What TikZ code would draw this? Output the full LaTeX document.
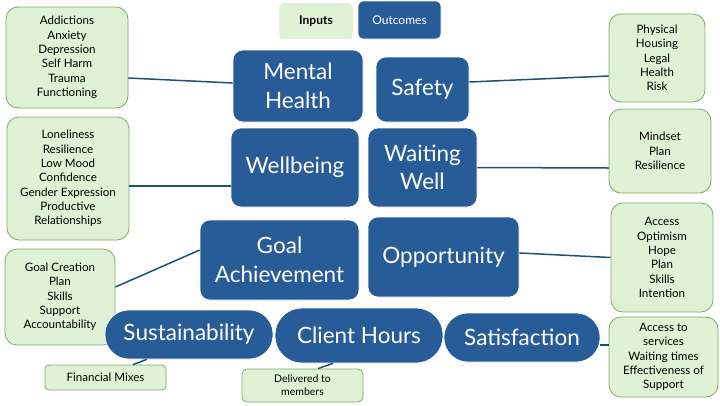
\documentclass[tikz,border=0pt]{standalone}
\usepackage{fontspec}
\setmainfont{Lato}
\definecolor{bluebox}{RGB}{40,92,152}
\definecolor{greenfill}{RGB}{224,242,214}
\definecolor{greenline}{RGB}{122,170,102}
\definecolor{linkcol}{RGB}{32,82,112}
\begin{document}
\begin{tikzpicture}[x=1pt,y=-1pt,
  inbox/.style={draw=greenline,fill=greenfill,line width=0.8pt,rounded corners=12pt,
    inner sep=0pt,align=center,font=\fontsize{11.6}{14.3}\selectfont,text=black},
  outbox/.style={draw=white,line width=0.6pt,fill=bluebox,rounded corners=10pt,
    inner sep=0pt,align=center,font=\fontsize{22.5}{28.5}\selectfont,text=white},
  pill/.style={outbox,rounded corners=24pt},
  link/.style={draw=linkcol,line width=1.5pt}]
\useasboundingbox (0,0) rectangle (720,405);
\fill[white] (0,0) rectangle (720,405);

% legend
\node[inbox,draw=none,rounded corners=5pt,minimum width=74pt,minimum height=36pt,font=\fontsize{12}{14}\selectfont\bfseries] (inputs) at (316,21) {Inputs};
\node[outbox,rounded corners=5pt,minimum width=83pt,minimum height=38pt,font=\fontsize{12}{14}\selectfont] (outcomes) at (399.5,20) {Outcomes};

% inputs
\node[inbox,minimum width=122pt,minimum height=101pt] (L1) at (67,57.5) {Addictions\\Anxiety\\Depression\\Self Harm\\Trauma\\Functioning};
\node[inbox,minimum width=122pt,minimum height=123pt] (L2) at (68,178.5) {Loneliness\\Resilience\\Low Mood\\Confidence\\Gender Expression\\Productive\\Relationships};
\node[inbox,minimum width=110pt,minimum height=96pt] (L3) at (60,297) {Goal Creation\\Plan\\Skills\\Support\\Accountability};
\node[inbox,rounded corners=4pt,minimum width=121pt,minimum height=25pt] (FM) at (105.5,377.5) {Financial Mixes};
\node[inbox,rounded corners=5pt,minimum width=121pt,minimum height=33pt,font=\fontsize{10.5}{13}\selectfont] (DM) at (302.5,385.5) {Delivered to\\members};
\node[inbox,minimum width=96pt,minimum height=88pt] (R1) at (657,58) {Physical\\Housing\\Legal\\Health\\Risk};
\node[inbox,minimum width=102pt,minimum height=84pt] (R2) at (660,151) {Mindset\\Plan\\Resilience};
\node[inbox,minimum width=102pt,minimum height=109pt] (R3) at (662,257.5) {Access\\Optimism\\Hope\\Plan\\Skills\\Intention};
\node[inbox,minimum width=109pt,minimum height=80pt] (R4) at (663.5,357) {Access to\\services\\Waiting times\\Effectiveness of\\Support};

% outcomes
\node[outbox,minimum width=130pt,minimum height=72pt] (MH) at (298,86) {Mental\\Health};
\node[outbox,minimum width=93pt,minimum height=65pt] (SF) at (422.5,89.5) {Safety};
\node[outbox,minimum width=128pt,minimum height=79pt] (WB) at (295,167.5) {Wellbeing};
\node[outbox,minimum width=109pt,minimum height=79pt] (WW) at (422.5,167.5) {Waiting\\Well};
\node[outbox,minimum width=159pt,minimum height=80pt] (GA) at (279.5,260) {Goal\\Achievement};
\node[outbox,minimum width=151pt,minimum height=80pt] (OP) at (443.5,257) {Opportunity};
\node[pill,minimum width=168pt,minimum height=49pt] (SU) at (189,334.5) {Sustainability};
\node[pill,rounded corners=27pt,minimum width=168pt,minimum height=55pt] (CH) at (359,335.5) {Client Hours};
\node[pill,minimum width=156pt,minimum height=49pt] (SA) at (522,337.5) {Satisfaction};

% connectors
\draw[link] ([yshift=-20.5pt]L1.east) -- ([yshift=3pt]MH.west);
\draw[link] ([yshift=-7.5pt]L2.east) -- ([yshift=-18.5pt]WB.west);
\draw[link] ([yshift=10pt]L3.east) -- ([yshift=10pt]GA.west);
\draw[link] ([xshift=27.5pt]FM.north) -- ([xshift=-42pt]SU.south);
\draw[link] ([xshift=15.5pt]DM.north) -- ([xshift=-26pt]CH.south);
\draw[link] ([yshift=7.5pt]SF.east) -- ([yshift=-18pt]R1.west);
\draw[link] (WW.east) -- ([yshift=-17pt]R2.west);
\draw[link] ([yshift=4pt]OP.east) -- (R3.west);
\draw[link] ([yshift=-7.5pt]SA.east) -- ([yshift=12pt]R4.west);
\end{tikzpicture}
\end{document}
